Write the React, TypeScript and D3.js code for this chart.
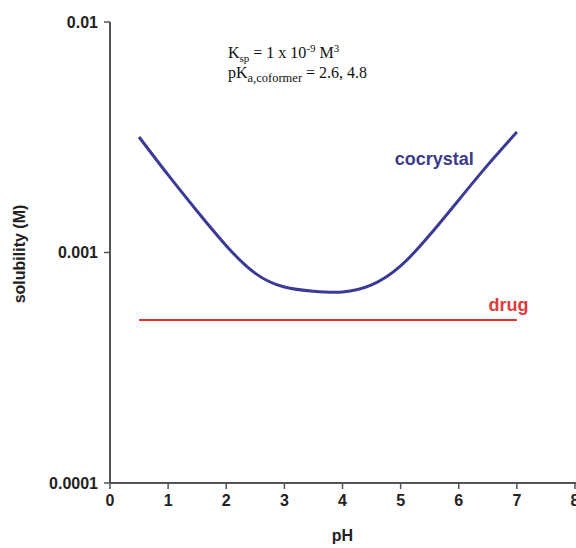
import React from "react";
import * as d3 from "d3";

// pH values sampled along the cocrystal curve and the read-off solubility (M)
const cocrystalPH = [0.5, 1, 1.5, 2, 2.5, 3, 3.5, 4, 4.5, 5, 5.5, 6, 6.5, 7];
const cocrystalSol = [
    0.00317, 0.00217, 0.00151, 0.00107, 0.000812, 0.000708, 0.000679,
    0.000674, 0.000723, 0.000874, 0.00119, 0.00169, 0.0024, 0.00333
];

const drugPH = [0.5, 7];
const drugSol = [0.00051, 0.00051];

const xTicks = [0, 1, 2, 3, 4, 5, 6, 7, 8];
const yTicks = [0.0001, 0.001, 0.01];
const yTickLabels = ["0.0001", "0.001", "0.01"];

const layout = {
    width: 576,
    height: 548,
    left: 110,
    right: 575,
    top: 22,
    bottom: 483
};

const App = () => {
    const xScale = d3.scaleLinear().domain([0, 8]).range([layout.left, layout.right]);
    const yScale = d3.scaleLog().domain([0.0001, 0.01]).range([layout.bottom, layout.top]);

    const lineGenerator = d3
        .line<[number, number]>()
        .x(d => xScale(d[0]))
        .y(d => yScale(d[1]))
        .curve(d3.curveNatural);

    const cocrystalLine = lineGenerator(
        cocrystalPH.map((p, i) => [p, cocrystalSol[i]] as [number, number])
    );
    const drugLine = lineGenerator(
        drugPH.map((p, i) => [p, drugSol[i]] as [number, number])
    );

    const axisColor = "#555";
    const labelFont = "Arial, 'Liberation Sans', sans-serif";
    const serifFont = "'Times New Roman', 'Liberation Serif', serif";

    return (
        <svg
            width={layout.width}
            height={layout.height}
            style={{ position: "absolute", left: 0, top: 0, background: "#fff" }}
        >
            {/* axes */}
            <line
                x1={layout.left}
                y1={layout.top}
                x2={layout.left}
                y2={layout.bottom}
                stroke={axisColor}
                strokeWidth={2}
            />
            <line
                x1={layout.left}
                y1={layout.bottom}
                x2={layout.right + 2}
                y2={layout.bottom}
                stroke={axisColor}
                strokeWidth={2}
            />
            {yTicks.map((t, i) => (
                <g key={t}>
                    <line
                        x1={layout.left - 6}
                        x2={layout.left}
                        y1={yScale(t)}
                        y2={yScale(t)}
                        stroke={axisColor}
                        strokeWidth={1.5}
                    />
                    <text
                        x={layout.left - 12}
                        y={yScale(t)}
                        dy="0.35em"
                        textAnchor="end"
                        fontFamily={labelFont}
                        fontWeight="bold"
                        fontSize={16}
                        fill="#222"
                    >
                        {yTickLabels[i]}
                    </text>
                </g>
            ))}
            {xTicks.map(t => (
                <g key={t}>
                    <line
                        x1={xScale(t)}
                        x2={xScale(t)}
                        y1={layout.bottom}
                        y2={layout.bottom + 6}
                        stroke={axisColor}
                        strokeWidth={1.5}
                    />
                    <text
                        x={xScale(t)}
                        y={layout.bottom + 23}
                        textAnchor="middle"
                        fontFamily={labelFont}
                        fontWeight="bold"
                        fontSize={16}
                        fill="#222"
                    >
                        {t}
                    </text>
                </g>
            ))}
            <text
                x={(xScale(0) + xScale(8)) / 2}
                y={541}
                textAnchor="middle"
                fontFamily={labelFont}
                fontWeight="bold"
                fontSize={16}
                fill="#222"
            >
                pH
            </text>
            <text
                transform={`translate(25, ${254}) rotate(-90)`}
                textAnchor="middle"
                fontFamily={labelFont}
                fontWeight="bold"
                fontSize={16}
                fill="#222"
            >
                solubility (M)
            </text>

            {/* data */}
            <path d={drugLine || ""} fill="none" stroke="#e8302c" strokeWidth={2} />
            <path d={cocrystalLine || ""} fill="none" stroke="#3b3b96" strokeWidth={3} />

            <text
                x={xScale(4.9)}
                y={yScale(0.0024)}
                fontFamily={labelFont}
                fontWeight="bold"
                fontSize={18}
                fill="#3b3b8a"
            >
                cocrystal
            </text>
            <text
                x={xScale(7.2)}
                y={yScale(0.00056)}
                textAnchor="end"
                fontFamily={labelFont}
                fontWeight="bold"
                fontSize={18}
                fill="#e03a3a"
            >
                drug
            </text>

            {/* annotation */}
            <text x={228} y={58} fontFamily={serifFont} fontSize={16} fill="#111">
                K<tspan fontSize={11} dy={4}>sp</tspan>
                <tspan dy={-4}> = 1 x 10</tspan>
                <tspan fontSize={11} dy={-6}>-9</tspan>
                <tspan dy={6}> M</tspan>
                <tspan fontSize={11} dy={-6}>3</tspan>
            </text>
            <text x={228} y={78} fontFamily={serifFont} fontSize={16} fill="#111">
                pK<tspan fontSize={12.5} dy={4}>a,coformer</tspan>
                <tspan dy={-4}> = 2.6, 4.8</tspan>
            </text>
        </svg>
    );
};

export default App;
